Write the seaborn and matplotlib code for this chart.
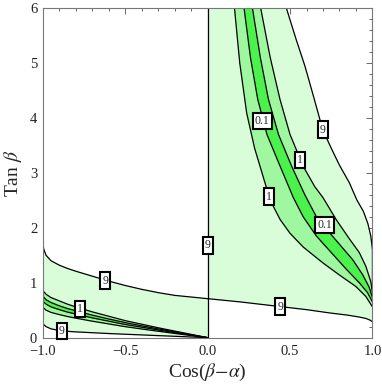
import matplotlib
matplotlib.use('Agg')

import matplotlib.pyplot as plt
import seaborn as sns
import numpy as np

# ---- left half (cos < 0), every curve on the same cos grid ----
cos_left = [-1.0, -0.995, -0.98, -0.95, -0.9, -0.85, -0.8, -0.7, -0.6, -0.5, -0.4, -0.3, -0.2, -0.1, 0.0]
t9_top_left = [1.78, 1.62, 1.50, 1.40, 1.32, 1.26, 1.21, 1.12, 1.03, 0.95, 0.88, 0.82, 0.77, 0.74, 0.71]
t1_hi_left = [0.88, 0.84, 0.79, 0.73, 0.67, 0.61, 0.56, 0.47, 0.39, 0.31, 0.245, 0.18, 0.12, 0.06, 0.0]
t01_hi_left = [0.78, 0.74, 0.69, 0.64, 0.58, 0.53, 0.49, 0.41, 0.34, 0.275, 0.215, 0.16, 0.105, 0.052, 0.0]
t01_lo_left = [0.69, 0.65, 0.61, 0.56, 0.51, 0.465, 0.43, 0.36, 0.30, 0.24, 0.19, 0.14, 0.093, 0.046, 0.0]
t1_lo_left = [0.58, 0.54, 0.50, 0.46, 0.42, 0.385, 0.355, 0.30, 0.25, 0.20, 0.158, 0.117, 0.077, 0.038, 0.0]
t9_lo_left = [0.28, 0.24, 0.20, 0.16, 0.13, 0.115, 0.105, 0.09, 0.075, 0.062, 0.05, 0.037, 0.025, 0.012, 0.0]

# ---- right half: the 9-curve continuing from the left ----
cos_9_low_right = [0.0, 0.1, 0.2, 0.3, 0.44, 0.6, 0.74, 0.85, 0.92, 0.96, 0.985, 1.0]
t_9_low_right = [0.71, 0.68, 0.65, 0.615, 0.566, 0.51, 0.45, 0.41, 0.375, 0.35, 0.32, 0.29]

# right-hand band edges (cos, tan beta)
cos_1_left = [0.163, 0.195, 0.237, 0.285, 0.33, 0.38, 0.44, 0.50, 0.58, 0.70, 0.80, 0.90, 0.96, 1.0]
tan_1_left = [6.0, 5.0, 4.09, 3.45, 3.0, 2.5, 2.15, 1.9, 1.65, 1.36, 1.14, 0.93, 0.75, 0.56]
cos_01_left = [0.221, 0.26, 0.304, 0.36, 0.44, 0.52, 0.58, 0.66, 0.75, 0.84, 0.92, 0.97, 1.0]
tan_01_left = [6.0, 5.1, 4.34, 3.7, 3.12, 2.55, 2.2, 1.85, 1.55, 1.25, 1.0, 0.82, 0.65]
cos_01_right = [0.272, 0.32, 0.369, 0.43, 0.51, 0.59, 0.66, 0.72, 0.80, 0.88, 0.94, 0.98, 1.0]
tan_01_right = [6.0, 5.1, 4.34, 3.7, 3.12, 2.6, 2.2, 1.98, 1.7, 1.42, 1.15, 0.92, 0.73]
cos_1_right = [0.322, 0.38, 0.439, 0.50, 0.58, 0.65, 0.70, 0.78, 0.86, 0.92, 0.96, 0.99, 1.0]
tan_1_right = [6.0, 5.1, 4.34, 3.7, 3.12, 2.75, 2.55, 2.15, 1.80, 1.55, 1.3, 1.02, 0.82]
cos_9_right = [0.478, 0.535, 0.59, 0.64, 0.698, 0.75, 0.80, 0.86, 0.905, 0.945, 0.972, 0.99, 1.0, 1.0]
tan_9_right = [6.0, 5.45, 4.95, 4.42, 3.79, 3.45, 3.14, 2.82, 2.51, 2.3, 2.08, 1.85, 1.6, 0.85]

# vertical 9-contour at cos = 0
cos_9_vert = [0.0, 0.0]
tan_9_vert = [0.0, 6.0]

# contour labels
label_text = ['9', '9', '1', '9', '9', '0.1', '9', '1', '1', '0.1']
label_cos = [0.0, -0.62, -0.775, -0.885, 0.44, 0.332, 0.698, 0.56, 0.373, 0.712]
label_tan = [1.68, 1.04, 0.52, 0.12, 0.566, 3.94, 3.79, 3.23, 2.57, 2.05]

LIGHT = '#d9fcd9'
MID = '#9ff79f'
BRIGHT = '#4cf24c'

sns.set_theme(style='white')
plt.rcParams['font.family'] = ['Liberation Serif', 'DejaVu Serif']
plt.rcParams['mathtext.fontset'] = 'stix'

fig = plt.figure(figsize=(3.82, 3.89), dpi=100)
ax = fig.add_axes([0.112, 0.132, 0.863, 0.847])

# left half fills
ax.fill_between(cos_left, t9_lo_left, t9_top_left, color=LIGHT, lw=0, zorder=1)
ax.fill_between(cos_left, t1_lo_left, t1_hi_left, color=MID, lw=0, zorder=1)
ax.fill_between(cos_left, t01_lo_left, t01_hi_left, color=BRIGHT, lw=0, zorder=1)

# right half fills
px = np.concatenate([[0.0, 0.0], cos_9_right, cos_9_low_right[::-1]])
py = np.concatenate([[t_9_low_right[0], 6.0], tan_9_right, t_9_low_right[::-1]])
ax.fill(px, py, color=LIGHT, lw=0, zorder=1)
ax.fill(np.concatenate([cos_1_left, cos_1_right[::-1]]),
        np.concatenate([tan_1_left, tan_1_right[::-1]]), color=MID, lw=0, zorder=1)
ax.fill(np.concatenate([cos_01_left, cos_01_right[::-1]]),
        np.concatenate([tan_01_left, tan_01_right[::-1]]), color=BRIGHT, lw=0, zorder=1)

curves = [
    (cos_left, t9_top_left), (cos_left, t1_hi_left), (cos_left, t01_hi_left),
    (cos_left, t01_lo_left), (cos_left, t1_lo_left), (cos_left, t9_lo_left),
    (cos_9_low_right, t_9_low_right), (cos_1_left, tan_1_left),
    (cos_01_left, tan_01_left), (cos_01_right, tan_01_right),
    (cos_1_right, tan_1_right), (cos_9_right, tan_9_right),
    (cos_9_vert, tan_9_vert),
]
for cx, ty in curves:
    sns.lineplot(x=cx, y=ty, sort=False, estimator=None, color='black',
                 lw=0.9, ax=ax, zorder=2)

for txt, cx, ty in zip(label_text, label_cos, label_tan):
    ax.text(cx, ty, txt, fontsize=8.5, ha='center', va='center', zorder=3,
            bbox=dict(boxstyle='square,pad=0.18', fc='white', ec='black', lw=1.5))

ax.set_xlim(-1, 1)
ax.set_ylim(0, 6)
ax.set_xticks([-1.0, -0.5, 0.0, 0.5, 1.0])
ax.set_xticklabels(['\u22121.0', '\u22120.5', '0.0', '0.5', '1.0'])
ax.set_yticks([0, 1, 2, 3, 4, 5, 6])
ax.set_xticks(np.arange(-1.0, 1.01, 0.1), minor=True)
ax.set_yticks(np.arange(0, 6.01, 0.2), minor=True)
ax.tick_params(which='both', direction='in', top=True, right=True,
               colors='#666666', labelcolor='#222222', labelsize=10.5, width=0.7)
ax.tick_params(which='major', length=4)
ax.tick_params(axis='x', which='major', pad=5)
ax.tick_params(axis='y', which='major', pad=4)
ax.tick_params(which='minor', length=2)
for s in ax.spines.values():
    s.set_color('#777777')
    s.set_linewidth(0.8)

ax.set_xlabel(r'Cos($\beta$$-$$\alpha$)', fontsize=14, labelpad=3)
ax.set_ylabel(r'Tan $\beta$', fontsize=14, labelpad=4)

fig.savefig('out.png', dpi=100)
